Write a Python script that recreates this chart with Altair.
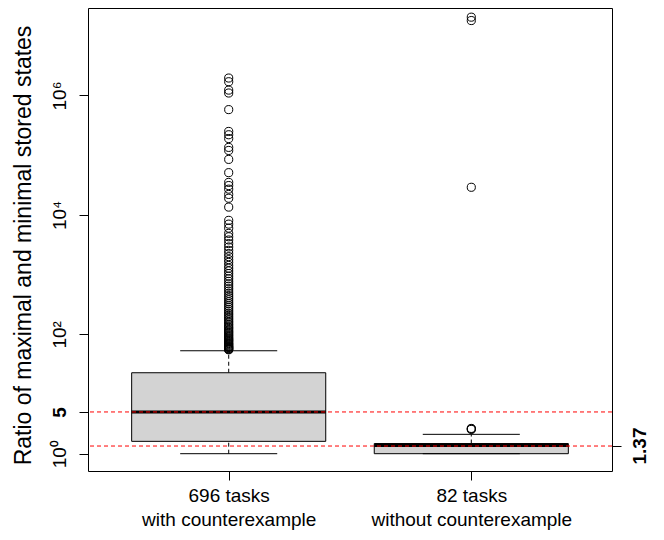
import json
import altair as alt
import pandas as pd

# ---- data ----
positions = [1, 2]
label_lines = [["696 tasks", "with counterexample"], ["82 tasks", "without counterexample"]]
lower_whisker = [1.0, 1.0]
q1 = [1.61, 1.0]
median = [5.0, 1.37]
q3 = [22.7, 1.48]
upper_whisker = [53.0, 2.11]

outliers_with = [
    55, 56, 57, 58, 60, 61, 62, 64, 66, 68, 70, 72, 75, 78, 80, 83, 86, 90, 94, 98,
    103, 108, 113, 118, 125, 131, 138, 146, 155, 164, 175, 186, 198, 212, 226, 243,
    260, 280, 300, 325, 350, 380, 410, 445, 485, 530, 580, 640, 700, 770, 850, 940,
    1040, 1150, 1280, 1420, 1600, 1780, 2000, 2250, 2550, 2900, 3300, 3800, 4300,
    4900, 6000, 7000, 8100, 13500, 19000, 22000, 27000, 31000, 35000, 51000, 85000,
    120000, 135000, 190000, 220000, 250000, 580000, 1100000, 1230000, 1700000, 1960000,
]
outliers_without = [2.55, 2.6, 2.65, 29000, 18000000, 20500000]

reference_values = [5, 1.37]

y_tick_values = [1, 5, 100, 10000, 1000000]
y_tick_labels = ["10\u2070", "5", "10\u00b2", "10\u2074", "10\u2076"]
right_tick_values = [1.37]
right_tick_labels = ["1.37"]

y_title = "Ratio of maximal and minimal stored states"

# ---- tables ----
stats = pd.DataFrame({
    "pos": positions, "lower": lower_whisker, "q1": q1, "median": median,
    "q3": q3, "upper": upper_whisker,
})
out_df = pd.DataFrame({
    "pos": [positions[0]] * len(outliers_with) + [positions[1]] * len(outliers_without),
    "value": outliers_with + outliers_without,
})
ref_df = pd.DataFrame({"v": reference_values, "idx": list(range(len(reference_values)))})

FONT = "Liberation Sans"
FS = 19

x_label_expr = " : ".join(
    f"datum.value == {p} ? {json.dumps(l)}" for p, l in zip(positions[:-1], label_lines[:-1])
) + f" : {json.dumps(label_lines[-1])}"
y_label_expr = " : ".join(
    f"datum.value == {v} ? {json.dumps(t)}" for v, t in zip(y_tick_values, y_tick_labels)
) + " : ''"
r_label_expr = " : ".join(
    f"datum.value == {v} ? {json.dumps(t)}" for v, t in zip(right_tick_values, right_tick_labels)
) + " : ''"

x_scale = alt.Scale(domain=[0.42, 2.58], nice=False, zero=False)
y_scale = alt.Scale(type="log", domain=[0.513, 2.92e7], nice=False)

x_axis = alt.Axis(
    values=positions, labelExpr=x_label_expr, title=None, grid=False, domain=False,
    tickColor="black", tickSize=9, labelColor="black", labelFontSize=FS, labelFont=FONT,
    labelLineHeight=24, labelBaseline="top", labelPadding=6, labelFlush=False,
    labelOverlap=False, labelLimit=0,
)
y_axis = alt.Axis(
    values=y_tick_values, labelExpr=y_label_expr, grid=False, domain=False,
    tickColor="black", tickSize=9, labelColor="black", labelFontSize=FS, labelFont=FONT,
    labelAngle=270, labelAlign="center", labelBaseline="alphabetic", labelPadding=14,
    labelFlush=False, labelOverlap=False, labelBound=False,
    labelFontWeight={"condition": {"test": "datum.value == 5", "value": "bold"}, "value": "normal"},
    title=y_title, titleFont=FONT, titleFontSize=23, titleFontWeight="normal",
    titleColor="black", titleAngle=270, titleAlign="center", titleBaseline="alphabetic",
    titleX=-58, titleY=237,
)
r_axis = alt.Axis(
    orient="right", values=right_tick_values, labelExpr=r_label_expr, grid=False,
    domain=False, tickColor="black", tickSize=9, labelColor="black", labelFontSize=FS,
    labelFont=FONT, labelFontWeight="bold", labelAngle=270, labelAlign="center",
    labelBaseline="alphabetic", labelPadding=24, labelFlush=False, labelOverlap=False,
    title=None,
)

base = alt.Chart(stats).transform_calculate(
    xl="datum.pos - 0.4", xr="datum.pos + 0.4", cl="datum.pos - 0.2", cr="datum.pos + 0.2"
)

whisker_up = base.mark_rule(color="black", strokeWidth=1, strokeDash=[4, 3]).encode(
    x=alt.X("pos:Q", scale=x_scale, axis=x_axis),
    y=alt.Y("q3:Q", scale=y_scale, axis=y_axis),
    y2="upper:Q",
)
whisker_low = base.mark_rule(color="black", strokeWidth=1, strokeDash=[4, 3]).encode(
    x=alt.X("pos:Q", scale=x_scale, axis=x_axis),
    y=alt.Y("lower:Q", scale=y_scale, axis=y_axis),
    y2="q1:Q",
)
cap_up = base.mark_rule(color="black", strokeWidth=1).encode(
    x=alt.X("cl:Q", scale=x_scale, axis=x_axis), x2="cr:Q",
    y=alt.Y("upper:Q", scale=y_scale, axis=y_axis),
)
cap_low = base.mark_rule(color="black", strokeWidth=1).encode(
    x=alt.X("cl:Q", scale=x_scale, axis=x_axis), x2="cr:Q",
    y=alt.Y("lower:Q", scale=y_scale, axis=y_axis),
)
box = base.mark_rect(fill="#D3D3D3", stroke="black", strokeWidth=1).encode(
    x=alt.X("xl:Q", scale=x_scale, axis=x_axis), x2="xr:Q",
    y=alt.Y("q1:Q", scale=y_scale, axis=y_axis), y2="q3:Q",
)
med = base.mark_rule(color="black", strokeWidth=3).encode(
    x=alt.X("xl:Q", scale=x_scale, axis=x_axis), x2="xr:Q",
    y=alt.Y("median:Q", scale=y_scale, axis=y_axis),
)
points = alt.Chart(out_df).mark_point(
    shape="circle", filled=False, color="black", size=66, strokeWidth=1, opacity=1
).encode(
    x=alt.X("pos:Q", scale=x_scale, axis=x_axis),
    y=alt.Y("value:Q", scale=y_scale, axis=y_axis),
)

# red dashed reference lines (second one nudged half a pixel to stay crisp)
red_line_a = alt.Chart(ref_df).transform_filter("datum.idx == 0").mark_rule(
    stroke="#FF0000", color="#FF0000", strokeWidth=1, strokeDash=[4, 3]
).encode(
    y=alt.Y("v:Q", scale=y_scale, axis=y_axis),
)
red_line_b = alt.Chart(ref_df).transform_filter("datum.idx == 1").mark_rule(
    stroke="#FF0000", color="#FF0000", strokeWidth=1, strokeDash=[4, 3], yOffset=0.5
).encode(
    y=alt.Y("v:Q", scale=y_scale, axis=y_axis),
)

main = alt.layer(whisker_up, whisker_low, box, cap_up, cap_low, med, points,
                 red_line_a, red_line_b)

# invisible layer that only carries the right-hand axis at 1.37
right_axis_layer = alt.Chart(ref_df).transform_filter("datum.idx == 1").mark_rule(
    opacity=0, strokeWidth=0
).encode(
    y=alt.Y("v:Q", scale=y_scale, axis=r_axis),
)

chart = alt.layer(main, right_axis_layer).resolve_axis(y="independent").properties(
    width=524, height=463,
    autosize=alt.AutoSizeParams(type="none"),
    padding={"left": 80, "top": 0, "right": 40, "bottom": 64},
).configure(font=FONT).configure_view(stroke="black", strokeWidth=1)

chart.save("out.html", embed_options={"renderer": "svg", "actions": False})
